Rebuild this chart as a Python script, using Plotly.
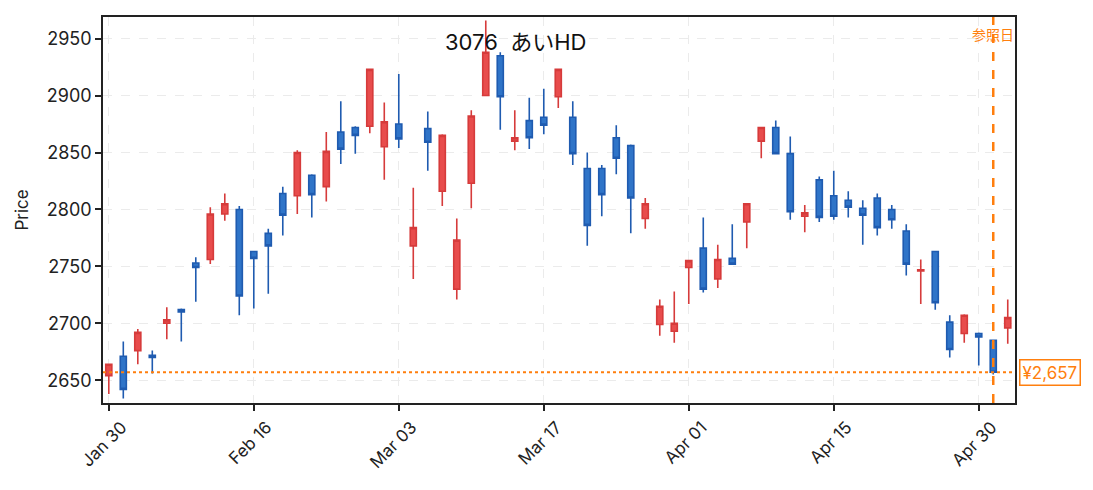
import plotly.graph_objects as go

# 取引日 (2026)
dates = [
    "2026-01-30", "2026-02-02", "2026-02-03", "2026-02-04", "2026-02-05", "2026-02-06",
    "2026-02-09", "2026-02-10", "2026-02-12", "2026-02-13", "2026-02-16", "2026-02-17",
    "2026-02-18", "2026-02-19", "2026-02-20", "2026-02-24", "2026-02-25", "2026-02-26",
    "2026-02-27", "2026-03-02", "2026-03-03", "2026-03-04", "2026-03-05", "2026-03-06",
    "2026-03-09", "2026-03-10", "2026-03-11", "2026-03-12", "2026-03-13", "2026-03-16",
    "2026-03-17", "2026-03-18", "2026-03-19", "2026-03-23", "2026-03-24", "2026-03-25",
    "2026-03-26", "2026-03-27", "2026-03-30", "2026-03-31", "2026-04-01", "2026-04-02",
    "2026-04-03", "2026-04-06", "2026-04-07", "2026-04-08", "2026-04-09", "2026-04-10",
    "2026-04-13", "2026-04-14", "2026-04-15", "2026-04-16", "2026-04-17", "2026-04-20",
    "2026-04-21", "2026-04-22", "2026-04-23", "2026-04-24", "2026-04-27", "2026-04-28",
    "2026-04-30", "2026-05-01", "2026-05-07",
]
opens = [
    2654, 2671, 2676, 2672, 2700, 2712, 2753, 2756, 2796, 2800, 2763, 2779, 2814, 2812,
    2830, 2820, 2868, 2872, 2873, 2855, 2875, 2768, 2871, 2816, 2730, 2823, 2900, 2935,
    2860, 2878, 2881, 2899, 2881, 2836, 2836, 2863, 2856, 2792, 2699, 2693, 2749, 2766,
    2739, 2757, 2789, 2860, 2872, 2849, 2794, 2826, 2812, 2808, 2801, 2810, 2800, 2781,
    2746, 2763, 2701, 2691, 2691, 2685, 2696,
]
highs = [
    2664, 2684, 2695, 2676, 2714, 2713, 2758, 2802, 2814, 2803, 2763, 2783, 2820, 2852,
    2831, 2868, 2895, 2873, 2923, 2894, 2919, 2819, 2886, 2866, 2792, 2887, 2966, 2938,
    2887, 2898, 2906, 2923, 2895, 2850, 2839, 2874, 2857, 2810, 2721, 2728, 2755, 2793,
    2769, 2787, 2805, 2872, 2878, 2864, 2804, 2829, 2834, 2816, 2808, 2814, 2804, 2787,
    2756, 2763, 2707, 2708, 2692, 2685, 2721,
]
lows = [
    2638, 2634, 2664, 2656, 2686, 2684, 2719, 2752, 2790, 2707, 2713, 2726, 2777, 2796,
    2793, 2807, 2840, 2849, 2867, 2826, 2854, 2739, 2834, 2803, 2721, 2801, 2900, 2870,
    2852, 2853, 2866, 2889, 2839, 2768, 2794, 2831, 2779, 2783, 2689, 2683, 2717, 2727,
    2731, 2752, 2766, 2845, 2849, 2791, 2780, 2789, 2791, 2793, 2769, 2777, 2783, 2742,
    2717, 2712, 2670, 2683, 2663, 2655, 2682,
]
closes = [
    2664, 2642, 2692, 2670, 2703, 2710, 2749, 2796, 2805, 2724, 2757, 2768, 2795, 2850,
    2813, 2851, 2853, 2865, 2923, 2877, 2862, 2784, 2859, 2865, 2773, 2882, 2938, 2899,
    2863, 2863, 2874, 2923, 2849, 2786, 2813, 2845, 2810, 2805, 2715, 2700, 2755, 2730,
    2756, 2752, 2805, 2872, 2849, 2798, 2797, 2793, 2794, 2802, 2795, 2784, 2791, 2752,
    2747, 2718, 2677, 2707, 2688, 2657, 2705,
]

tick_dates = ["2026-01-30", "2026-02-16", "2026-03-03", "2026-03-17",
              "2026-04-01", "2026-04-15", "2026-04-30"]
tick_labels = ["Jan 30", "Feb 16", "Mar 03", "Mar 17", "Apr 01", "Apr 15", "Apr 30"]
price_ticks = [2650, 2700, 2750, 2800, 2850, 2900, 2950]

ref_date = "2026-05-01"
ref_price = 2657
title_text = "3076  あいHD"

ORANGE = "#ff7f0e"
FONT = "Inter, Noto Sans CJK JP, sans-serif"

fig = go.Figure(go.Candlestick(
    x=dates, open=opens, high=highs, low=lows, close=closes,
    increasing=dict(line=dict(color="#d63b3b", width=1.6), fillcolor="#e84c4c"),
    decreasing=dict(line=dict(color="#1f5bb0", width=1.6), fillcolor="#2f74c8"),
    whiskerwidth=0, hoverinfo="skip", showlegend=False,
))

# 参照日の縦線と終値の横線
fig.add_shape(type="line", xref="x", yref="paper", x0=ref_date, x1=ref_date, y0=0, y1=1,
              line=dict(color=ORANGE, width=2.5, dash="dash"), layer="above")
fig.add_shape(type="line", xref="paper", yref="y", x0=0, x1=1, y0=ref_price, y1=ref_price,
              line=dict(color=ORANGE, width=2.2, dash="dot"), layer="above")

fig.add_annotation(x=ref_date, y=0.955, xref="x", yref="paper", text="参照日",
                   showarrow=False, xanchor="center", yanchor="middle",
                   font=dict(family="Noto Sans CJK JP", size=14, color=ORANGE))
fig.add_annotation(x=1.004, y=ref_price, xref="paper", yref="y",
                   text=f"¥{ref_price:,}", showarrow=False, xanchor="left", yanchor="middle",
                   font=dict(family=FONT, size=17, color=ORANGE),
                   bgcolor="white", bordercolor=ORANGE, borderwidth=1.5, borderpad=2)
fig.add_annotation(x=0.452, y=0.936, xref="paper", yref="paper", text=title_text,
                   showarrow=False, xanchor="center", yanchor="middle",
                   font=dict(family=FONT, size=22, color="#111"))

fig.update_layout(
    width=1077, height=474,
    margin=dict(l=95, r=70, t=7, b=79),
    plot_bgcolor="white", paper_bgcolor="white",
    font=dict(family=FONT, size=17, color="#222"),
    boxgap=0.4,
    xaxis=dict(
        type="category", range=[-0.4, 62.5], rangeslider=dict(visible=False),
        tickmode="array", tickvals=tick_dates, ticktext=tick_labels, tickangle=-45,
        ticks="outside", ticklen=6, tickwidth=1.5, tickcolor="#222",
        showline=True, linecolor="#222", linewidth=1.5, mirror=True,
        showgrid=True, gridcolor="#ebebeb", griddash="dash", gridwidth=1.2,
        tickfont=dict(size=17), ticklabelshift=13,
    ),
    yaxis=dict(
        range=[2630, 2969], tickvals=price_ticks,
        ticks="outside", ticklen=6, tickwidth=1.5, tickcolor="#222",
        showline=True, linecolor="#222", linewidth=1.5, mirror=True,
        showgrid=True, gridcolor="#ebebeb", griddash="dash", gridwidth=1.2,
        zeroline=False, title=dict(text="Price", font=dict(size=17), standoff=14),
        tickfont=dict(size=18),
    ),
)

fig.write_html("out.html")
